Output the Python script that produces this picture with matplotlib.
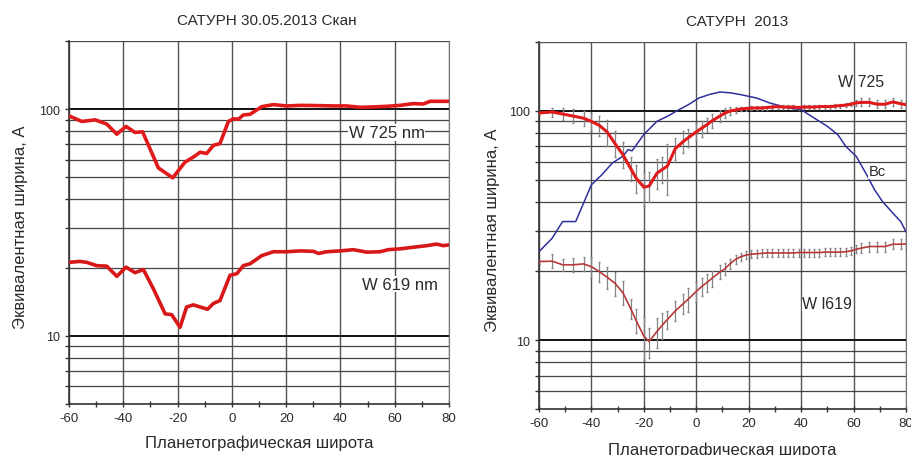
import numpy as np
import matplotlib
matplotlib.use("Agg")
import matplotlib.pyplot as plt
from matplotlib.ticker import MultipleLocator, LogLocator, FixedLocator, NullFormatter

plt.rcParams['font.family'] = ['Liberation Sans', 'DejaVu Sans']
plt.rcParams['axes.unicode_minus'] = False

# ---------------- левая панель: скан 30.05.2013 ----------------
lat_725_scan = [-60, -55.3, -50.4, -46.1, -42.4, -39, -35.7, -32.9, -27.1, -21.8, -17.3, -14.2,
                -11.7, -9.3, -6.8, -4.4, -1.3, 0.5, 2.4, 4.2, 6.7, 11, 15.3, 20.2, 25.1, 31.2,
                37.4, 42.3, 47.2, 52.1, 57, 61.9, 66.8, 70.5, 73, 80]
w725_scan = [93.5, 88.3, 89.8, 86, 77.6, 84, 79, 79.5, 55.1, 49.8, 58.4, 61.5,
             64.6, 63.8, 69.3, 70.5, 88.3, 90.7, 90.4, 94.4, 95, 102.7, 104.8, 103.4, 104, 103.8,
             103.4, 103.4, 102, 102.4, 103, 104, 105.9, 105.5, 108.4, 108.4]

lat_619_scan = [-60, -56, -53.5, -49.8, -46.1, -42.4, -39, -35.7, -32.6, -28.9, -24.6, -22.2,
                -19.1, -16.7, -14.2, -11.7, -9, -6.8, -4.4, -0.7, 1.8, 4.2, 6.7, 11, 15.3,
                20.2, 25.1, 30, 31.9, 34.9, 39.8, 44.7, 49.7, 54.6, 57.6, 61.9, 66.8, 71.8,
                75.4, 77.9, 80]
w619_scan = [21.1, 21.3, 21.1, 20.4, 20.3, 18.3, 20.1, 19, 19.6, 16.1, 12.5, 12.4,
             10.9, 13.4, 13.7, 13.4, 13.1, 13.9, 14.3, 18.5, 18.8, 20.4, 20.8, 22.6, 23.5,
             23.5, 23.7, 23.6, 23.1, 23.5, 23.7, 24, 23.4, 23.5, 24, 24.2, 24.6, 25,
             25.4, 25, 25.2]

# ---------------- правая панель: 2013 ----------------
lat = [-60, -55, -51, -47, -43, -40, -37, -34, -31, -28, -25, -23, -20, -18, -15, -13, -11,
       -8, -5, -3, 0, 2, 4, 6, 9, 11, 13, 15, 17, 19, 21, 23, 25, 27, 29, 31, 33, 35, 37,
       39, 41, 43, 45, 47, 49, 51, 53, 55, 57, 59, 61, 63, 66, 69, 72, 75, 78, 80]
w725 = [98, 99, 97, 95, 93, 90, 86.5, 81, 72, 64.5, 56, 51, 46.5, 47, 53.5, 55.5, 57.5,
        68.5, 73.5, 76.5, 81, 84, 87, 90.5, 95, 98, 100, 101, 102, 102.5, 103, 103, 103,
        103.5, 104, 104.5, 104, 104, 104, 103.5, 104, 104, 104, 104.5, 104.5, 104.5, 105,
        105.5, 106, 107, 108.5, 109, 109, 107, 107, 109.5, 107.5, 106.5]
w725_err = [0.02, 0.045, 0.06, 0.07, 0.08, 0.09, 0.1, 0.13, 0.13, 0.13, 0.12, 0.14, 0.17,
            0.15, 0.15, 0.13, 0.25, 0.11, 0.11, 0.09, 0.09, 0.08, 0.07, 0.07, 0.06, 0.05,
            0.04, 0.03, 0.02, 0.02, 0.02, 0.02, 0.02, 0.02, 0.02, 0.02, 0.02, 0.02, 0.02,
            0.02, 0.02, 0.02, 0.02, 0.02, 0.02, 0.02, 0.02, 0.02, 0.02, 0.02, 0.03, 0.04,
            0.04, 0.04, 0.04, 0.04, 0.04, 0.04]
w619 = [22, 22.1, 21.3, 21.3, 21.5, 20.9, 19.9, 18.8, 17.7, 16.1, 13.7, 12.2, 10.4, 9.85,
        10.9, 11.6, 12.3, 13.4, 14.4, 15.1, 16.3, 17.1, 17.8, 18.6, 19.8, 20.5, 21.6, 22.5,
        23.1, 23.5, 23.7, 23.8, 23.9, 24, 24, 24, 24, 24, 24, 24.1, 24.1, 24.1, 24.1, 24.1,
        24.2, 24.2, 24.2, 24.2, 24.3, 24.5, 24.9, 25.2, 25.6, 25.6, 25.6, 26.2, 26.2, 26.3]
w619_err = [0.02, 0.07, 0.06, 0.07, 0.07, 0.1, 0.1, 0.11, 0.12, 0.12, 0.1, 0.12, 0.21,
            0.15, 0.15, 0.13, 0.09, 0.1, 0.1, 0.12, 0.1, 0.09, 0.09, 0.08, 0.07, 0.06, 0.05,
            0.05, 0.04, 0.04, 0.04, 0.04, 0.04, 0.04, 0.04, 0.04, 0.04, 0.04, 0.04, 0.04,
            0.04, 0.04, 0.04, 0.04, 0.04, 0.04, 0.04, 0.04, 0.04, 0.04, 0.04, 0.05, 0.05,
            0.05, 0.05, 0.05, 0.05, 0.05]

lat_bc = [-60, -55, -51, -46, -40, -36, -32, -28, -26, -24.5, -20, -15, -11, -7, -3, 1, 5,
          9, 13, 17, 23, 28, 34, 40, 45, 50, 54, 57, 61, 65, 68, 71, 75, 78, 80]
bc = [24.3, 27.8, 32.9, 32.9, 47.6, 52.7, 59.3, 63.4, 67.8, 67, 78.9, 90.1, 94.8, 100.7,
      106.5, 113.9, 118, 121, 120, 117.8, 113.9, 108.4, 103.8, 101.3, 93.1, 85.7, 78.8,
      70.1, 63.4, 52.7, 45.3, 40.3, 35.8, 32.9, 29.7]

xlabel = "Планетографическая широта"
ylabel = "Эквивалентная ширина, А"
txt = '#2a2a2a'


def setup(ax, top_spine):
    ax.set_yscale('log')
    ax.set_xlim(-60, 80)
    ax.set_ylim(5, 200)
    ax.xaxis.set_major_locator(MultipleLocator(20))
    ax.xaxis.set_minor_locator(MultipleLocator(10))
    ax.yaxis.set_major_locator(FixedLocator([10, 100]))
    ax.yaxis.set_minor_locator(LogLocator(base=10, subs=np.arange(2, 10)))
    ax.yaxis.set_minor_formatter(NullFormatter())
    ax.set_yticklabels(['10', '100'])
    ax.grid(True, which='major', axis='x', color='#555555', lw=1.0)
    ax.grid(True, which='minor', axis='y', color='#444444', lw=0.9)
    ax.grid(True, which='major', axis='y', color='#111111', lw=1.4)
    ax.tick_params(axis='y', which='both', direction='out', length=3, width=1,
                   colors='#333333', labelsize=9, labelcolor=txt)
    ax.tick_params(axis='x', which='both', direction='inout', length=4, width=1,
                   colors='#333333', labelsize=9.5, labelcolor=txt)
    for s in ['left', 'bottom']:
        ax.spines[s].set_color('#333333')
        ax.spines[s].set_linewidth(1.2)
    ax.spines['right'].set_color('#777777')
    ax.spines['top'].set_color('#555555')
    ax.spines['top'].set_visible(top_spine)
    ax.set_xlabel(xlabel, fontsize=12, color=txt)
    ax.set_ylabel(ylabel, fontsize=12, color=txt)


fig = plt.figure(figsize=(9.12, 4.56), dpi=100)
ax1 = fig.add_axes([0.0757, 0.1118, 0.4167, 0.796])
ax2 = fig.add_axes([0.591, 0.1009, 0.4024, 0.8048])

# левая
setup(ax1, False)
ax1.xaxis.set_label_coords(0.5, -0.085)
ax1.yaxis.set_label_coords(-0.108, 0.49)
ax1.plot(lat_725_scan, w725_scan, color='#e01a1a', lw=2.6, zorder=3)
ax1.plot(lat_619_scan, w619_scan, color='#d81818', lw=2.6, zorder=3)
ax1.text(57, 79, "W 725 nm", fontsize=12, color=txt, ha='center', va='center',
         bbox=dict(facecolor='white', edgecolor='none', pad=0.5), zorder=4)
ax1.text(62, 16.9, "W 619 nm", fontsize=12, color=txt, ha='center', va='center',
         bbox=dict(facecolor='white', edgecolor='none', pad=0.5), zorder=4)
fig.text(0.293, 0.955, "САТУРН 30.05.2013 Скан", fontsize=11, color=txt, ha='center', va='center')

# правая
setup(ax2, True)
ax2.xaxis.set_label_coords(0.5, -0.088)
ax2.yaxis.set_label_coords(-0.107, 0.49)
lat_a = np.array(lat)
ax2.errorbar(lat_a, w725, yerr=np.array(w725) * np.array(w725_err), fmt='none',
             ecolor='#858585', elinewidth=0.9, capsize=1.0, zorder=2)
ax2.errorbar(lat_a, w619, yerr=np.array(w619) * np.array(w619_err), fmt='none',
             ecolor='#858585', elinewidth=0.9, capsize=1.0, zorder=2)
ax2.plot(lat_bc, bc, color='#2f2f9c', lw=1.1, zorder=3)
ax2.plot(lat, w725, color='#e01a1a', lw=2.2, zorder=3)
ax2.plot(lat, w619, color='#b83838', lw=1.2, zorder=3)
ax2.text(63, 135, "W 725", fontsize=11.5, color=txt, ha='center', va='center', zorder=4)
ax2.text(69, 54.5, "Bc", fontsize=10.5, color=txt, ha='center', va='center',
         bbox=dict(facecolor='white', edgecolor='none', pad=0.3), zorder=4)
ax2.text(50, 14.5, "W l619", fontsize=11.5, color=txt, ha='center', va='center',
         bbox=dict(facecolor='white', edgecolor='none', pad=0.3), zorder=4)
fig.text(0.808, 0.952, "САТУРН  2013", fontsize=11, color=txt, ha='center', va='center')

fig.savefig("out.png", dpi=100, facecolor='white')
